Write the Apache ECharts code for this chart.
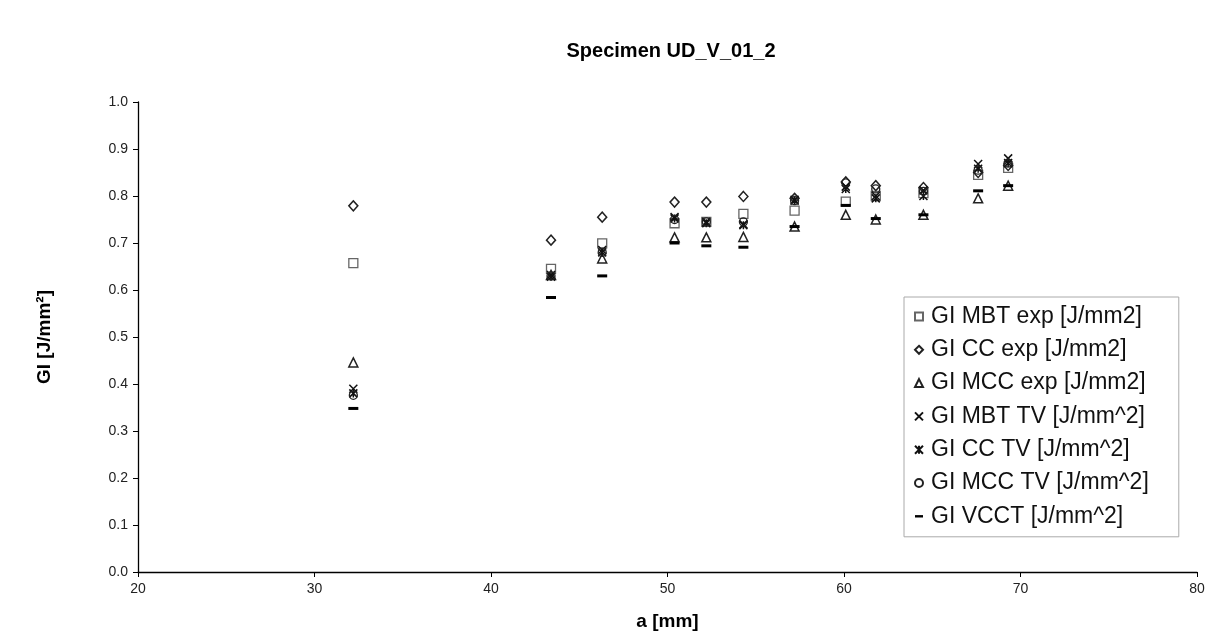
<!DOCTYPE html>
<html>
<head>
<meta charset="utf-8">
<script src="https://cdn.jsdelivr.net/npm/echarts@6/dist/echarts.min.js"></script>
<style>
  html, body { margin: 0; padding: 0; background: #fff; }
  #chart { width: 1211px; height: 639px; }
</style>
</head>
<body>
<div id="chart"></div>
<script>
// crack length a [mm]
const crackLength = [32.2, 43.4, 46.3, 50.4, 52.2, 54.3, 57.2, 60.1, 61.8, 64.5, 67.6, 69.3];

// GI values [J/mm2], one array per method
const mbtExp  = [0.657, 0.645, 0.699, 0.742, 0.745, 0.762, 0.769, 0.788, 0.800, 0.806, 0.845, 0.860];
const ccExp   = [0.779, 0.706, 0.755, 0.787, 0.787, 0.799, 0.795, 0.830, 0.822, 0.818, 0.850, 0.865];
const mccExp  = [0.446, 0.632, 0.667, 0.712, 0.712, 0.713, 0.735, 0.760, 0.750, 0.760, 0.795, 0.822];
const mbtTv   = [0.390, 0.632, 0.685, 0.755, 0.745, 0.740, 0.790, 0.820, 0.800, 0.812, 0.868, 0.880];
const ccTv    = [0.380, 0.628, 0.680, 0.752, 0.742, 0.738, 0.792, 0.815, 0.795, 0.800, 0.858, 0.870];
const mccTv   = [0.376, 0.630, 0.680, 0.750, 0.745, 0.745, 0.790, 0.828, 0.815, 0.810, 0.855, 0.870];
const vcct    = [0.348, 0.584, 0.630, 0.700, 0.694, 0.691, 0.735, 0.780, 0.752, 0.760, 0.811, 0.822];

const seriesNames = [
    'GI MBT exp [J/mm2]',
    'GI CC exp [J/mm2]',
    'GI MCC exp [J/mm2]',
    'GI MBT TV [J/mm^2]',
    'GI CC TV [J/mm^2]',
    'GI MCC TV [J/mm^2]',
    'GI VCCT [J/mm^2]'
];

const FONT = '"Liberation Sans", Arial, sans-serif';

function pairs(values) {
    return values.map((v, i) => [crackLength[i], v]);
}

// marker looks: open symbols drawn with stroke only
const looks = [
    { symbol: 'rect', size: 9, fill: '#fff', stroke: '#666', width: 1.3 },
    { symbol: 'diamond', size: [9, 10], fill: '#fff', stroke: '#222', width: 1.5 },
    { symbol: 'triangle', size: [9, 9], fill: '#fff', stroke: '#222', width: 1.5 },
    { symbol: 'path://M0,0L10,10M10,0L0,10', size: 8, fill: 'transparent', stroke: '#111', width: 1.5 },
    { symbol: 'path://M0,0L10,10M10,0L0,10M5,0L5,10', size: 8, fill: 'transparent', stroke: '#111', width: 1.5 },
    { symbol: 'circle', size: 8, fill: 'transparent', stroke: '#222', width: 1.3 },
    { symbol: 'path://M0,0L10,0L10,3L0,3Z', size: [10, 3], fill: '#000', stroke: '#000', width: 0 }
];

const allValues = [mbtExp, ccExp, mccExp, mbtTv, ccTv, mccTv, vcct];

const chart = echarts.init(document.getElementById('chart'));
const option = {
    animation: false,
    backgroundColor: '#fff',
    title: {
        text: 'Specimen UD_V_01_2',
        left: 666,
        textAlign: 'center',
        top: 36,
        textStyle: { fontFamily: FONT, fontWeight: 'bold', fontSize: 20, color: '#000' }
    },
    grid: {
        left: 138,
        right: 14,
        top: 102,
        bottom: 67,
        containLabel: false
    },
    legend: {
        orient: 'vertical',
        left: 904,
        top: 297,
        padding: [8, 30, 9, 10],
        itemGap: 10.3,
        itemWidth: 8,
        itemHeight: 8,
        borderColor: '#aaa',
        borderWidth: 1,
        borderRadius: 0,
        backgroundColor: '#fff',
        textStyle: { fontFamily: FONT, fontSize: 23, color: '#111', lineHeight: 22, padding: [0, 0, 0, 3] },
        data: seriesNames
    },
    xAxis: {
        type: 'value',
        min: 20,
        max: 80,
        interval: 10,
        name: 'a [mm]',
        nameLocation: 'middle',
        nameGap: 40,
        nameTextStyle: { fontFamily: FONT, fontWeight: 'bold', fontSize: 19, color: '#000' },
        axisLine: { show: true, lineStyle: { color: '#000', width: 1.3 } },
        axisTick: { show: true, inside: false, length: 5, lineStyle: { color: '#000' } },
        axisLabel: { fontFamily: FONT, fontSize: 14, color: '#222', margin: 10 },
        splitLine: { show: false }
    },
    yAxis: {
        type: 'value',
        min: 0,
        max: 1,
        interval: 0.1,
        name: 'GI [J/mm²]',
        nameLocation: 'middle',
        nameGap: 84,
        nameRotate: 90,
        nameTextStyle: { fontFamily: FONT, fontWeight: 'bold', fontSize: 19, color: '#000' },
        axisLine: { show: true, lineStyle: { color: '#000', width: 1.3 } },
        axisTick: { show: true, inside: false, length: 5, lineStyle: { color: '#000' } },
        axisLabel: {
            fontFamily: FONT,
            fontSize: 14,
            color: '#222',
            margin: 10,
            formatter: v => v.toFixed(1)
        },
        splitLine: { show: false }
    },
    series: allValues.map((vals, i) => ({
        name: seriesNames[i],
        type: 'scatter',
        data: pairs(vals),
        symbol: looks[i].symbol,
        symbolSize: looks[i].size,
        itemStyle: {
            color: looks[i].fill,
            borderColor: looks[i].stroke,
            borderWidth: looks[i].width,
            opacity: 1
        },
        z: 2 + i
    }))
};
chart.setOption(option);
</script>
</body>
</html>
